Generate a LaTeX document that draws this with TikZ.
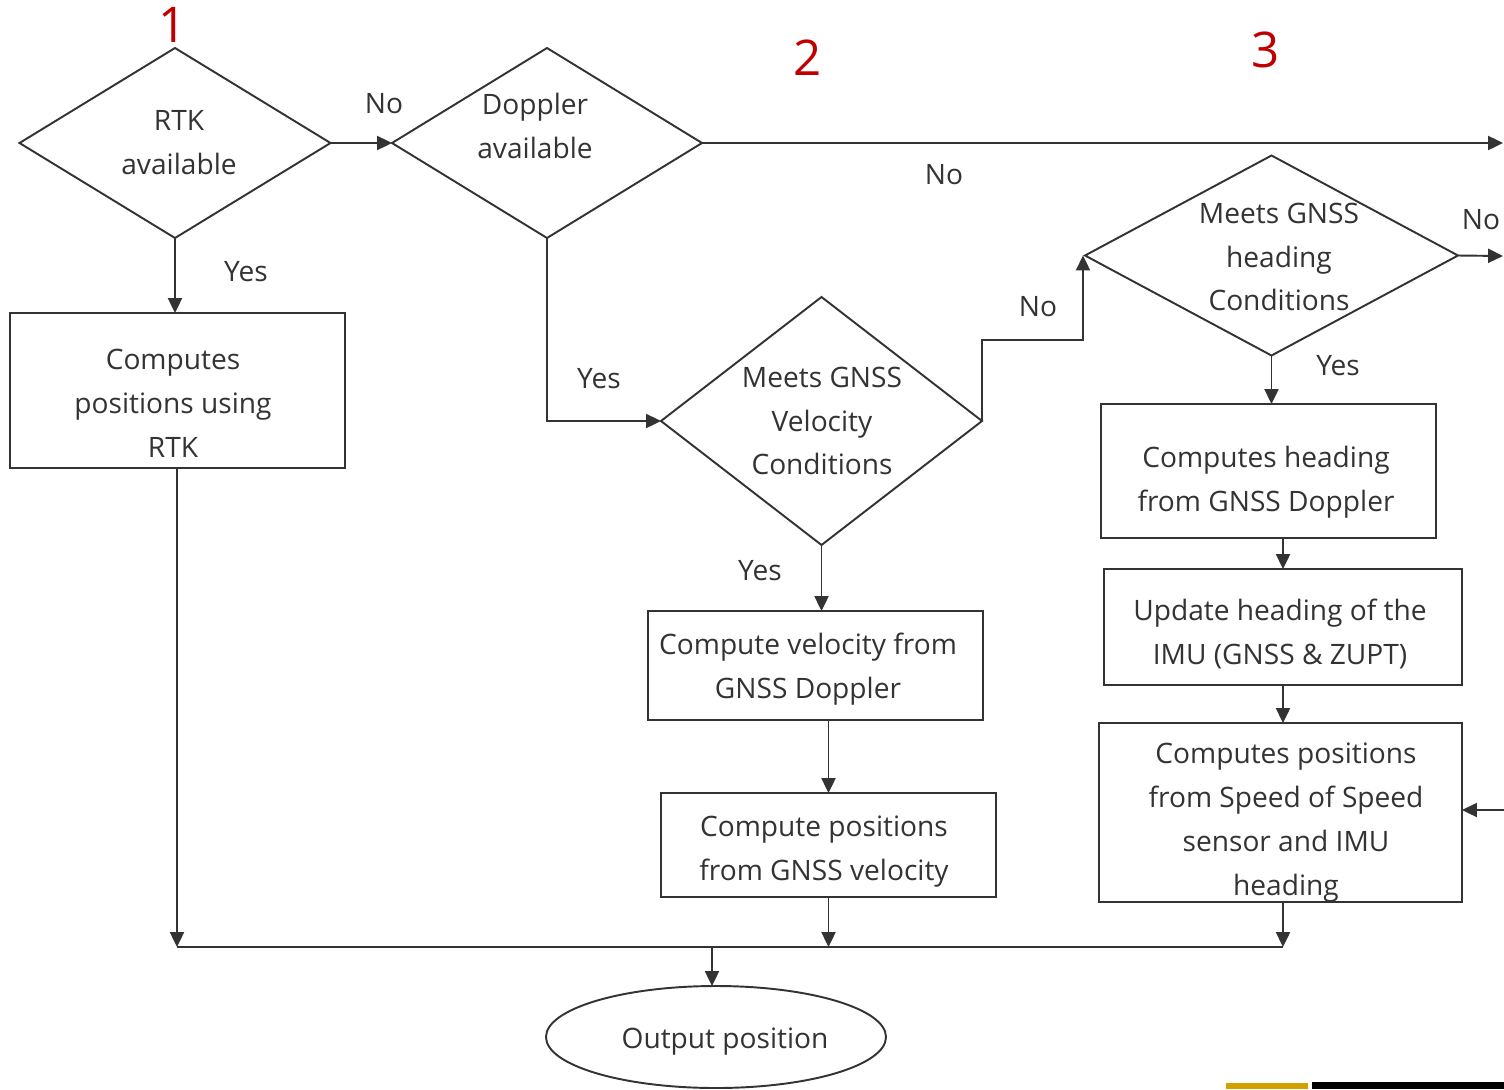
\documentclass[tikz,border=0pt]{standalone}
\usepackage{fontspec}
\setmainfont{Open Sans}
\usetikzlibrary{arrows.meta,shapes.geometric}
\definecolor{ink}{RGB}{51,51,51}
\definecolor{numred}{RGB}{192,0,0}
\definecolor{bargold}{RGB}{212,160,0}
\newcommand\normtxt{\fontsize{16}{25}\selectfont}
\def\pu{0.02cm}

\begin{document}
\begin{tikzpicture}[x=0.02cm,y=-0.02cm,line width=1.1pt,color=ink,
  dec/.style={diamond,draw,inner sep=0pt,outer sep=0pt},
  box/.style={rectangle,draw,inner sep=0pt,outer sep=0pt},
  lbl/.style={font=\normtxt,align=center,inner sep=0pt},
  num/.style={font=\fontsize{28}{30}\selectfont,text=numred,inner sep=0pt},
  arr/.style={-{Triangle[length=8.5pt,width=8pt]}}]
\useasboundingbox (0,0) rectangle (1504,1089);
% step numbers
\node[num] (n1) at (173,25) {1};
\node[num] (n2) at (808,58) {2};
\node[num] (n3) at (1266,50) {3};
% decisions
\node[dec,minimum width=311*\pu,minimum height=190*\pu] (rtk) at (175,143) {};
\node[lbl] (rtktxt) at (179,143) {RTK\\available};
\node[dec,minimum width=310*\pu,minimum height=190*\pu] (dop) at (547,143) {};
\node[lbl] (doptxt) at (535,126) {Doppler\\available};
\node[dec,minimum width=321*\pu,minimum height=248*\pu] (vel) at (821.5,421) {};
\node[lbl] (veltxt) at (822,421) {Meets GNSS\\Velocity\\Conditions};
\node[dec,minimum width=373*\pu,minimum height=200*\pu] (head) at (1271.5,255.5) {};
\node[lbl] (headtxt) at (1279,257) {Meets GNSS\\heading\\Conditions};
% boxes
\node[box,minimum width=335*\pu,minimum height=155*\pu] (rtkbox) at (177.5,390.5) {};
\node[lbl] (rtkboxtxt) at (173,403) {Computes\\positions using\\RTK};
\node[box,minimum width=335*\pu,minimum height=109*\pu] (cv) at (815.5,665.5) {};
\node[lbl] (cvtxt) at (808,669.5) {Compute velocity from\\GNSS Doppler};
\node[box,minimum width=335*\pu,minimum height=104*\pu] (cp) at (828.5,845) {};
\node[lbl] (cptxt) at (824,851.5) {Compute positions\\from GNSS velocity};
\node[box,minimum width=335*\pu,minimum height=134*\pu] (gd) at (1268.5,471) {};
\node[lbl] (gdtxt) at (1266,482.5) {Computes heading\\from GNSS Doppler};
\node[box,minimum width=358*\pu,minimum height=116*\pu] (imu) at (1283,627) {};
\node[lbl] (imutxt) at (1280,633.5) {Update heading of the\\IMU (GNSS \& ZUPT)};
\node[box,minimum width=363*\pu,minimum height=179*\pu] (spd) at (1280.5,812.5) {};
\node[lbl] (spdtxt) at (1286,822.5) {Computes positions\\from Speed of Speed\\sensor and IMU\\heading};
\node[ellipse,draw,inner sep=0pt,outer sep=0pt,minimum width=340*\pu,minimum height=102*\pu] (out) at (716,1037) {};
\node[lbl] (outtxt) at (725,1042) {Output position};
% yes / no
\node[lbl] (no1) at (384,104) {No};
\node[lbl] (no2) at (944,175) {No};
\node[lbl] (no3) at (1038,307) {No};
\node[lbl] (no4) at (1481,220) {No};
\node[lbl] (yes1) at (246,272) {Yes};
\node[lbl] (yes2) at (599,379) {Yes};
\node[lbl] (yes3) at (760,571) {Yes};
\node[lbl] (yes4) at (1338,366) {Yes};
% free ends
\coordinate (edgeA) at (1503,143);
\coordinate (edgeB) at (1503,256);
\coordinate (edgeC) at (1504,810);
\coordinate (bend) at (1083,340);
\coordinate (busL) at (177,947);
\coordinate (busR) at (1283,947);
\coordinate (busO) at (712,947);
% connectors
\draw[arr] (rtk.east) -- (dop.west);
\draw[arr] (rtk.south) -- (rtk.south |- rtkbox.north);
\draw[arr] (dop.east) -- (edgeA);
\draw[arr] (dop.south) |- (vel.west);
\draw[arr] (vel.east) |- (bend) -- (bend |- head.west);
\draw[arr] (head.east) -- (edgeB);
\draw[arr] (head.south) -- (head.south |- gd.north);
\draw[arr] (imu.north |- gd.south) -- (imu.north);
\draw[arr] (imu.south) -- (imu.south |- spd.north);
\draw[arr] (edgeC) -- (edgeC -| spd.east);
\draw[arr] (busR |- spd.south) -- (busR);
\draw[arr] (vel.south) -- (vel.south |- cv.north);
\draw[arr] (cp.north |- cv.south) -- (cp.north);
\draw[arr] (cp.south) -- (cp.south |- busR);
\draw[arr] (busL |- rtkbox.south) -- (busL);
\draw (busL) -- (busR);
\draw[arr] (busO) -- (busO |- out.north);
% slide bars
\fill[bargold] (1226,1083) rectangle (1308,1089);
\fill[black] (1312,1082) rectangle (1504,1089);
\end{tikzpicture}
\end{document}
